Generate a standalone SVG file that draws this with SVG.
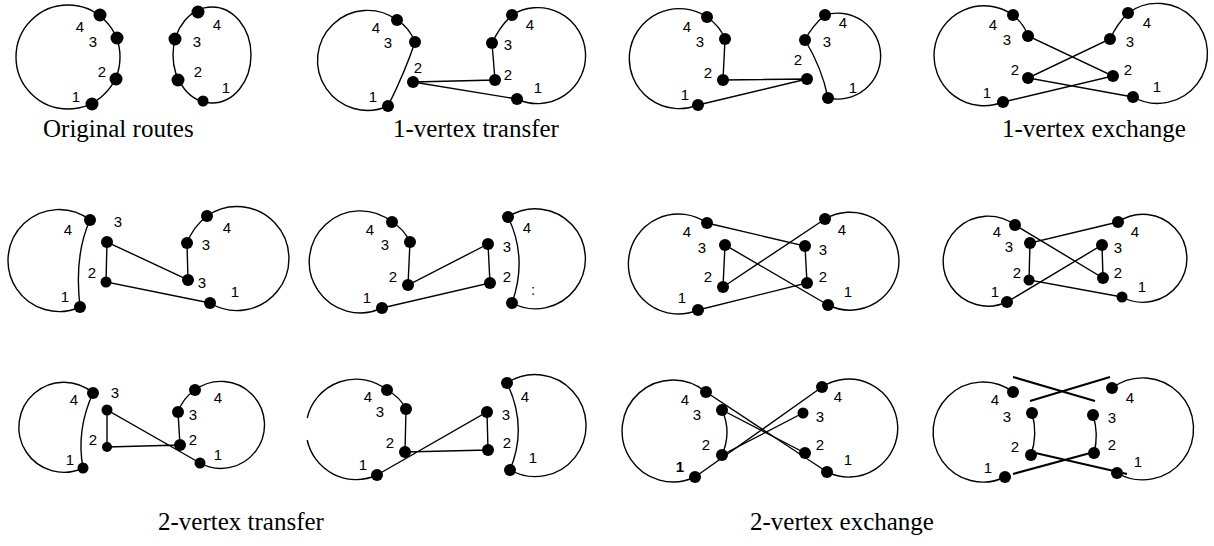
<svg xmlns="http://www.w3.org/2000/svg" width="1214" height="546" viewBox="0 0 1214 546">
<style>
.r{fill:none;stroke:#000;stroke-width:1.4}
.t{fill:none;stroke:#000;stroke-width:2.2}
.d circle{fill:#000}
.l text{font-family:"Liberation Sans",Arial,sans-serif;font-size:15px;text-anchor:middle;fill:#000}
.cap{font-family:"Liberation Serif","Times New Roman",serif;font-size:25px;fill:#000}
</style>
<rect width="1214" height="546" fill="#fff"/>

<g id="p1">
<g class="r"><circle cx="68" cy="57" r="52"/><ellipse cx="212" cy="55" rx="39" ry="48"/></g>
<g class="d"><circle cx="100" cy="15" r="6.5"/><circle cx="117" cy="38" r="6.5"/><circle cx="116" cy="79" r="6.5"/><circle cx="92" cy="104" r="6.5"/><circle cx="198" cy="12" r="6.5"/><circle cx="175" cy="39" r="6.5"/><circle cx="178" cy="80" r="6.5"/><circle cx="203" cy="101" r="5.5"/></g>
<g class="l"><text x="80" y="32">4</text><text x="93" y="47">3</text><text x="102" y="77">2</text><text x="76" y="102">1</text><text x="217" y="30">4</text><text x="197" y="47">3</text><text x="198" y="77">2</text><text x="226" y="93">1</text></g>
</g>

<g id="p2">
<g class="r"><path d="M388,106 A50,50 0 1 1 397,20 Q409,27 415,42 Q405,72 388,106"/><path d="M517,99 A48,48 0 1 0 512,15 Q500,26 492,43 L495,80 L413,82 L517,99"/></g>
<g class="d"><circle cx="397" cy="20" r="6"/><circle cx="415" cy="42" r="6"/><circle cx="388" cy="106" r="6"/><circle cx="512" cy="15" r="6"/><circle cx="492" cy="43" r="6"/><circle cx="495" cy="80" r="6"/><circle cx="413" cy="82" r="6"/><circle cx="517" cy="99" r="6"/></g>
<g class="l"><text x="376" y="33">4</text><text x="388" y="48">3</text><text x="418" y="73">2</text><text x="373" y="102">1</text><text x="530" y="30">4</text><text x="508" y="50">3</text><text x="508" y="80">2</text><text x="538" y="93">1</text></g>
</g>

<g id="p3">
<g class="r"><path d="M698,105 A50,50 0 1 1 707,17 Q720,26 725,39 L723,80 L807,79 L698,105"/><path d="M828,98 A43,43 0 1 0 825,15 Q812,26 805,40 Q822,68 828,98"/></g>
<g class="d"><circle cx="707" cy="17" r="6"/><circle cx="725" cy="39" r="6"/><circle cx="723" cy="80" r="6"/><circle cx="698" cy="105" r="6"/><circle cx="807" cy="79" r="6"/><circle cx="825" cy="15" r="6"/><circle cx="805" cy="40" r="6"/><circle cx="828" cy="98" r="6"/></g>
<g class="l"><text x="687" y="32">4</text><text x="700" y="47">3</text><text x="708" y="78">2</text><text x="685" y="100">1</text><text x="798" y="65">2</text><text x="843" y="28">4</text><text x="827" y="47">3</text><text x="853" y="93">1</text></g>
</g>

<g id="p4">
<g class="r"><path d="M1003,102 A50,50 0 1 1 1013,15 Q1024,24 1028,36 L1113,76 L1003,102"/><path d="M1133,97 A50,50 0 1 0 1128,13 Q1117,24 1110,39 L1028,78 L1133,97"/></g>
<g class="d"><circle cx="1013" cy="15" r="6"/><circle cx="1028" cy="36" r="6"/><circle cx="1028" cy="78" r="6"/><circle cx="1003" cy="102" r="6"/><circle cx="1128" cy="13" r="6"/><circle cx="1110" cy="39" r="6"/><circle cx="1113" cy="76" r="6"/><circle cx="1133" cy="97" r="6"/></g>
<g class="l"><text x="993" y="30">4</text><text x="1007" y="45">3</text><text x="1015" y="75">2</text><text x="987" y="98">1</text><text x="1147" y="28">4</text><text x="1130" y="47">3</text><text x="1128" y="75">2</text><text x="1157" y="92">1</text></g>
</g>

<g id="p5">
<g class="r"><path d="M80,307 A51,51 0 1 1 90,220 Q74,255 80,307"/><path d="M210,303 A52,52 0 1 0 207,216 Q193,227 187,243 L188,280 L107,242 L106,282 L210,303"/></g>
<g class="d"><circle cx="90" cy="220" r="6"/><circle cx="80" cy="307" r="6"/><circle cx="107" cy="242" r="6"/><circle cx="106" cy="282" r="5.5"/><circle cx="207" cy="216" r="6"/><circle cx="187" cy="243" r="6"/><circle cx="188" cy="280" r="6"/><circle cx="210" cy="303" r="6"/></g>
<g class="l"><text x="68" y="235">4</text><text x="65" y="302">1</text><text x="118" y="227">3</text><text x="92" y="278">2</text><text x="227" y="233">4</text><text x="206" y="250">3</text><text x="202" y="288">3</text><text x="235" y="297">1</text></g>
</g>

<g id="p6">
<g class="r"><path d="M382,308 A51,51 0 1 1 392,222 Q404,229 410,242 L408,285 L488,244 L490,283 L382,308"/><path d="M512,303 A50,50 0 1 0 508,217 Q528,258 512,303"/></g>
<g class="d"><circle cx="392" cy="222" r="6"/><circle cx="410" cy="242" r="6"/><circle cx="408" cy="285" r="6"/><circle cx="382" cy="308" r="6"/><circle cx="488" cy="244" r="6"/><circle cx="490" cy="283" r="6"/><circle cx="508" cy="217" r="6"/><circle cx="512" cy="303" r="6"/></g>
<g class="l"><text x="370" y="235">4</text><text x="385" y="250">3</text><text x="393" y="282">2</text><text x="367" y="303">1</text><text x="507" y="252">3</text><text x="507" y="282">2</text><text x="527" y="233">4</text><text x="533" y="295">:</text></g>
</g>

<g id="p7">
<g class="r"><path d="M698,310 A50,50 0 1 1 707,223 L805,246 L807,283 L698,310"/><path d="M828,305 A49,49 0 1 0 825,219 L723,287 L725,245 L828,305"/></g>
<g class="d"><circle cx="707" cy="223" r="6"/><circle cx="725" cy="245" r="6"/><circle cx="723" cy="287" r="6"/><circle cx="698" cy="310" r="6"/><circle cx="825" cy="219" r="6"/><circle cx="805" cy="246" r="6"/><circle cx="807" cy="283" r="6"/><circle cx="828" cy="305" r="6"/></g>
<g class="l"><text x="687" y="237">4</text><text x="702" y="253">3</text><text x="708" y="282">2</text><text x="682" y="303">1</text><text x="842" y="235">4</text><text x="823" y="255">3</text><text x="823" y="282">2</text><text x="848" y="297">1</text></g>
</g>

<g id="p8">
<g class="r"><path d="M1007,302 A45,45 0 1 1 1015,225 L1103,278 L1102,245 L1007,302"/><path d="M1122,297 A44,44 0 1 0 1118,222 L1030,243 L1029,280 L1122,297"/></g>
<g class="d"><circle cx="1015" cy="225" r="6"/><circle cx="1030" cy="243" r="6"/><circle cx="1029" cy="280" r="5.5"/><circle cx="1007" cy="302" r="6"/><circle cx="1118" cy="222" r="6"/><circle cx="1102" cy="245" r="6"/><circle cx="1103" cy="278" r="6"/><circle cx="1122" cy="297" r="5.5"/></g>
<g class="l"><text x="997" y="237">4</text><text x="1009" y="252">3</text><text x="1017" y="278">2</text><text x="995" y="297">1</text><text x="1135" y="237">4</text><text x="1118" y="253">3</text><text x="1118" y="278">2</text><text x="1142" y="292">1</text></g>
</g>

<g id="p9">
<g class="r"><path d="M83,468 A45,45 0 1 1 93,393 Q76,430 83,468"/><path d="M200,463 A43.5,43.5 0 1 0 195,390 Q183,398 178,412 L180,445 L107,447 L107,410 L200,463"/></g>
<g class="d"><circle cx="93" cy="393" r="6"/><circle cx="83" cy="468" r="5.5"/><circle cx="107" cy="410" r="5.5"/><circle cx="107" cy="447" r="5"/><circle cx="195" cy="390" r="6"/><circle cx="178" cy="412" r="6"/><circle cx="180" cy="445" r="6"/><circle cx="200" cy="463" r="5.5"/></g>
<g class="l"><text x="74" y="405">4</text><text x="70" y="465">1</text><text x="115" y="398">3</text><text x="93" y="445">2</text><text x="218" y="403">4</text><text x="193" y="420">3</text><text x="193" y="445">2</text><text x="218" y="460">1</text></g>
</g>

<g id="p10">
<g class="r"><path d="M377,475 A50,50 0 0 1 307.2,440 M307.2,418 A50,50 0 0 1 387,390 Q400,397 406,409 L405,452 L488,450 L487,412 L377,475"/><path d="M510,470 A51,51 0 1 0 507,383 Q528,427 510,470"/></g>
<g class="d"><circle cx="387" cy="390" r="6"/><circle cx="406" cy="409" r="6"/><circle cx="405" cy="452" r="6"/><circle cx="377" cy="475" r="6"/><circle cx="487" cy="412" r="6"/><circle cx="488" cy="450" r="6"/><circle cx="507" cy="383" r="6"/><circle cx="510" cy="470" r="6"/></g>
<g class="l"><text x="368" y="402">4</text><text x="380" y="417">3</text><text x="390" y="448">2</text><text x="363" y="470">1</text><text x="506" y="420">3</text><text x="507" y="448">2</text><text x="525" y="402">4</text><text x="533" y="463">1</text></g>
</g>

<g id="p11">
<g class="r"><path d="M695,477 A51,51 0 1 1 706,392 L827,472 A49,49 0 1 0 822,387 L695,477"/><path d="M722,410 Q732,432 722,455 M722,410 L805,453 M722,455 L803,413"/></g>
<g class="d"><circle cx="706" cy="392" r="6"/><circle cx="722" cy="410" r="6"/><circle cx="722" cy="455" r="6"/><circle cx="695" cy="477" r="6"/><circle cx="822" cy="387" r="6"/><circle cx="803" cy="413" r="5.5"/><circle cx="805" cy="453" r="6"/><circle cx="827" cy="472" r="6"/></g>
<g class="l"><text x="685" y="405">4</text><text x="697" y="420">3</text><text x="706" y="450">2</text><text x="680" y="472" font-weight="bold">1</text><text x="838" y="402">4</text><text x="820" y="422">3</text><text x="820" y="450">2</text><text x="848" y="465">1</text></g>
</g>

<g id="p12">
<g class="r"><path d="M1005,477 A50,50 0 1 1 1013,392"/><path d="M1117,473 A51,51 0 1 0 1112,388"/><path d="M1032,413 Q1038,434 1031,455 M1093,415 Q1099,434 1094,453"/></g>
<g class="t"><path d="M1013,377 L1095,401 M1110,377 L1030,401 M1031,452 L1127,474 M1094,452 L1013,474"/></g>
<g class="d"><circle cx="1013" cy="392" r="6"/><circle cx="1032" cy="413" r="6"/><circle cx="1031" cy="455" r="6"/><circle cx="1005" cy="477" r="6"/><circle cx="1112" cy="388" r="6"/><circle cx="1093" cy="415" r="6"/><circle cx="1094" cy="453" r="6"/><circle cx="1117" cy="473" r="6"/></g>
<g class="l"><text x="995" y="405">4</text><text x="1007" y="422">3</text><text x="1015" y="452">2</text><text x="988" y="473">1</text><text x="1130" y="403">4</text><text x="1112" y="423">3</text><text x="1112" y="450">2</text><text x="1138" y="467">1</text></g>
</g>

<g id="captions">
<text class="cap" x="43" y="137">Original routes</text>
<text class="cap" x="393" y="137">1-vertex transfer</text>
<text class="cap" x="1002" y="137">1-vertex exchange</text>
<text class="cap" x="158" y="530">2-vertex transfer</text>
<text class="cap" x="750" y="530">2-vertex exchange</text>
</g>
</svg>
